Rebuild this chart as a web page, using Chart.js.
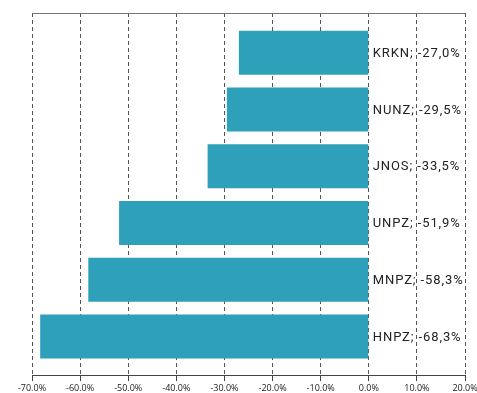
<!DOCTYPE html>
<html>
<head>
<meta charset="utf-8">
<script src="https://cdn.jsdelivr.net/npm/chart.js@4"></script>
<style>
html,body{margin:0;padding:0;background:#fff;}
#wrap{width:477px;height:393px;}
</style>
</head>
<body>
<div id="wrap"><canvas id="c" width="477" height="393"></canvas></div>
<script>
const categories = ["KRKN", "NUNZ", "JNOS", "UNPZ", "MNPZ", "HNPZ"];
const values = [-27.0, -29.5, -33.5, -51.9, -58.3, -68.3];
const xTicks = [-70, -60, -50, -40, -30, -20, -10, 0, 10, 20];

const points = values.map((v, i) => ({ x: v, y: i }));

const labelPlugin = {
  id: 'barLabels',
  afterDatasetsDraw(chart) {
    const ctx = chart.ctx;
    const xs = chart.scales.x;
    const meta = chart.getDatasetMeta(0);
    ctx.save();
    ctx.font = '13px Roboto';
    ctx.letterSpacing = '0.9px';
    ctx.fillStyle = '#222';
    ctx.textBaseline = 'middle';
    ctx.textAlign = 'left';
    const x0 = xs.getPixelForValue(0);
    meta.data.forEach((el, i) => {
      const txt = categories[i] + '; ' + values[i].toFixed(1).replace('.', ',') + '%';
      ctx.fillText(txt, x0 + 4, el.y + 1);
    });
    ctx.letterSpacing = '0px';
    // top border
    const a = chart.chartArea;
    ctx.strokeStyle = '#777';
    ctx.lineWidth = 1;
    ctx.beginPath();
    ctx.moveTo(a.left, a.top + 0.5);
    ctx.lineTo(a.right, a.top + 0.5);
    ctx.stroke();
    ctx.restore();
  }
};

new Chart(document.getElementById('c'), {
  type: 'bar',
  data: {
    datasets: [{
      data: points,
      backgroundColor: '#2fa0b9',
      borderWidth: 0,
      barPercentage: 0.776,
      categoryPercentage: 1.0
    }]
  },
  options: {
    indexAxis: 'y',
    responsive: false,
    animation: false,
    devicePixelRatio: 1,
    layout: { padding: { left: 32, right: 12, top: 13, bottom: 0 } },
    plugins: { legend: { display: false }, tooltip: { enabled: false } },
    scales: {
      x: {
        type: 'linear',
        min: -70,
        max: 20,
        afterBuildTicks(scale) { scale.ticks = xTicks.map(v => ({ value: v })); },
        afterFit(scale) { scale.paddingLeft = 0; scale.paddingRight = 0; scale.height = 18; },
        ticks: {
          callback: v => v.toFixed(1) + '%',
          font: { family: '"Open Sans"', size: 9 },
          color: '#222',
          padding: 2,
          maxRotation: 0,
          autoSkip: false
        },
        grid: {
          color: '#555',
          lineWidth: 1,
          tickLength: 6,
          tickColor: '#444',
          tickBorderDash: []
        },
        border: { display: true, color: '#444', width: 1, dash: [4, 3] }
      },
      y: {
        type: 'linear',
        reverse: true,
        offset: false,
        min: -0.7,
        max: 5.68,
        display: false,
        afterBuildTicks(scale) { scale.ticks = categories.map((c, i) => ({ value: i })); },
        grid: { display: false }
      }
    }
  },
  plugins: [labelPlugin]
});
</script>
</body>
</html>
